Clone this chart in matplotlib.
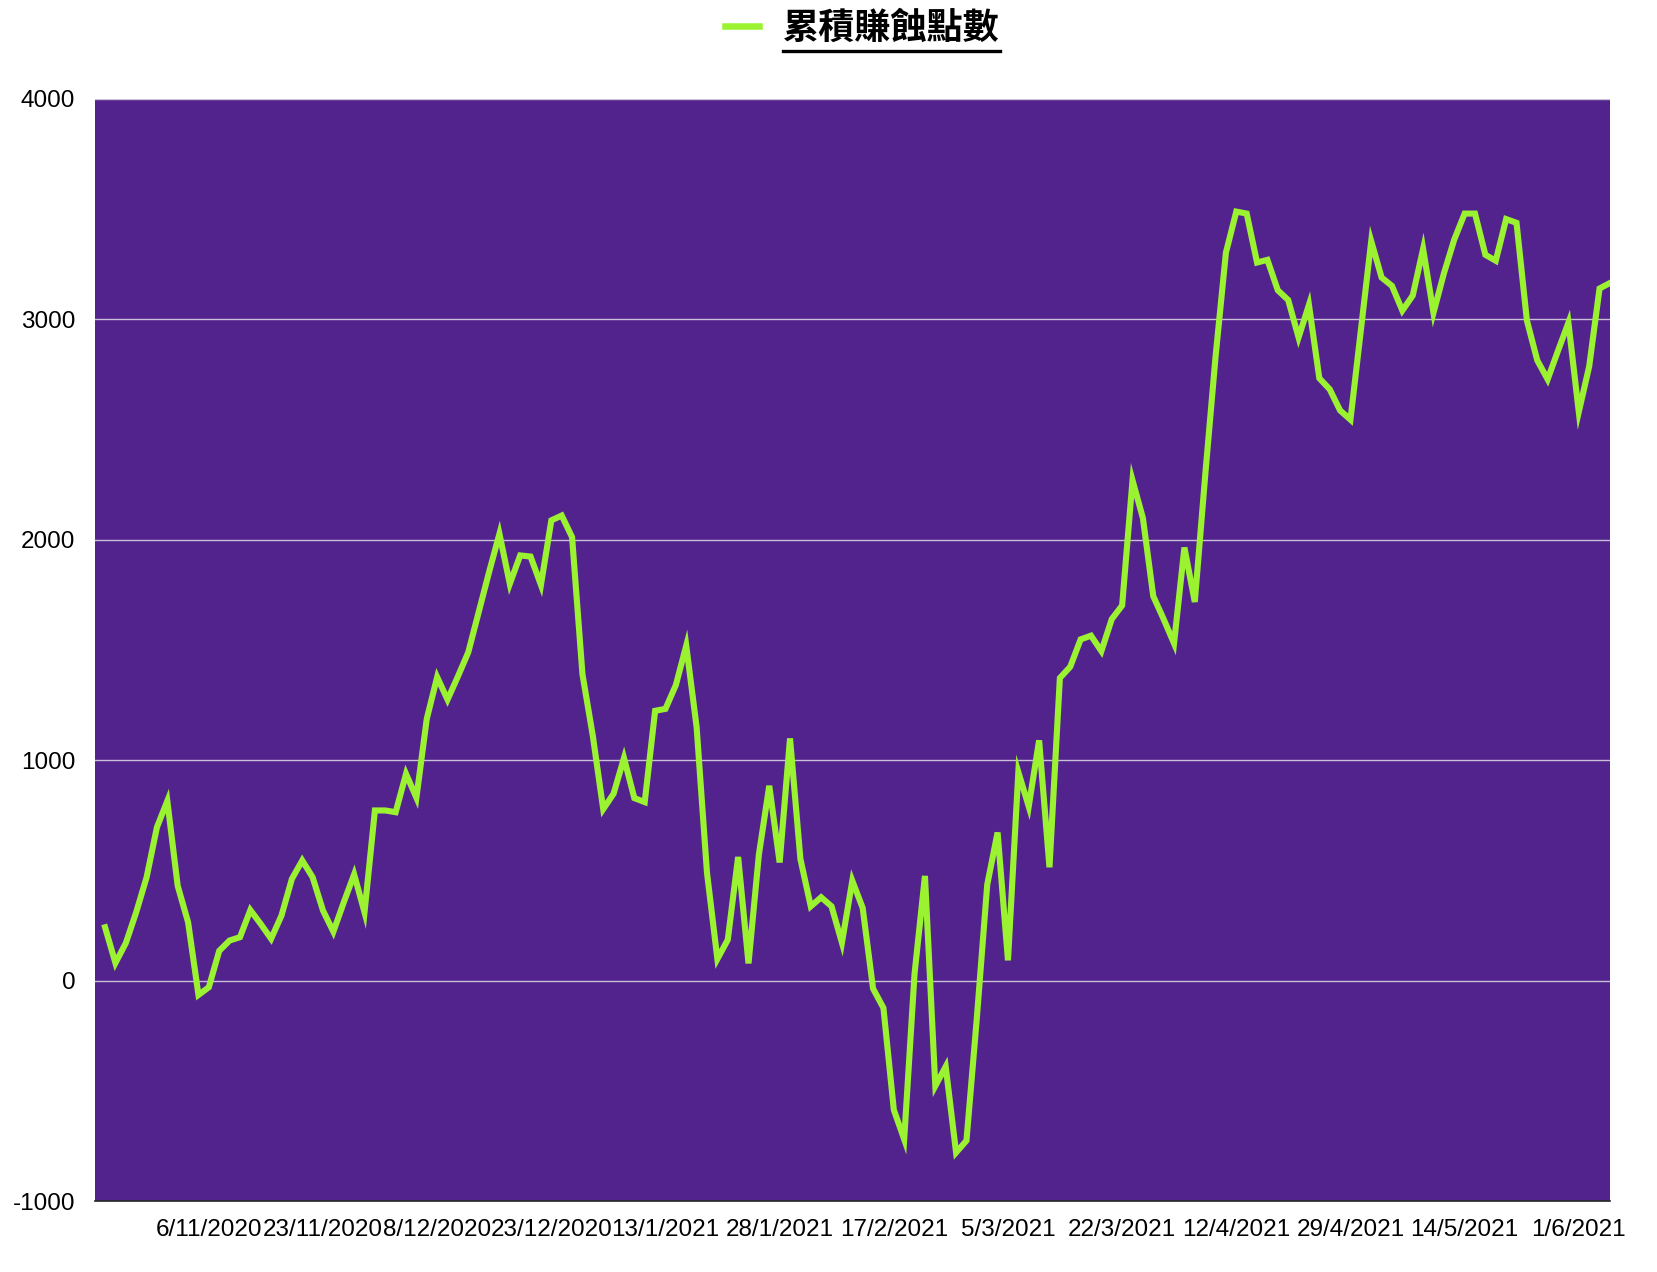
import matplotlib.pyplot as plt
from matplotlib.lines import Line2D

# cumulative profit/loss points, one value per trading day
points = [
    242, 80, 170, 310, 468, 696, 815, 430, 265, -65,
    -30, 135, 182, 197, 320, 257, 190, 295, 461, 545,
    469, 318, 222, 355, 482, 310, 772, 772, 764, 938,
    830, 1188, 1377, 1275, 1380, 1490, 1672, 1853, 2027, 1800,
    1929, 1924, 1795, 2088, 2110, 2012, 1390, 1110, 778, 848,
    1010, 828, 810, 1224, 1233, 1341, 1520, 1150, 489, 98,
    185, 561, 78, 572, 884, 536, 1099, 552, 337, 378,
    337, 172, 453, 330, -36, -124, -586, -720, 32, 475,
    -478, -390, -780, -726, -170, 435, 672, 92, 946, 790,
    1090, 514, 1373, 1424, 1548, 1565, 1495, 1640, 1702, 2270,
    2099, 1744, 1640, 1530, 1965, 1718, 2290, 2830, 3303, 3489,
    3480, 3258, 3270, 3132, 3088, 2918, 3066, 2733, 2683, 2587,
    2545, 2950, 3355, 3190, 3152, 3040, 3108, 3320, 3030, 3208,
    3362, 3480, 3480, 3293, 3266, 3455, 3438, 2995, 2814, 2728,
    2858, 2985, 2580, 2786, 3140, 3165,
]
tick_labels = ['6/11/2020', '23/11/2020', '8/12/2020', '23/12/2020', '13/1/2021',
               '28/1/2021', '17/2/2021', '5/3/2021', '22/3/2021', '12/4/2021',
               '29/4/2021', '14/5/2021', '1/6/2021']
series_name = '累積賺蝕點數'

plt.rcParams['font.family'] = ['Liberation Sans', 'Noto Sans CJK TC', 'DejaVu Sans']
plt.rcParams['axes.unicode_minus'] = False

fig = plt.figure(figsize=(16.58, 12.72), dpi=100)
ax = fig.add_axes([0.0571, 0.0558, 0.9139, 0.8664])
ax.set_facecolor('#52238d')

x = list(range(1, len(points) + 1))
ax.plot(x, points, color='#9af231', linewidth=4.4, solid_joinstyle='miter',
        label=series_name, zorder=3)

ax.set_xlim(0, len(points))
ax.set_ylim(-1000, 4000)
ax.set_yticks([-1000, 0, 1000, 2000, 3000, 4000])
ax.set_xticks(list(range(11, len(points), 11)))
ax.set_xticklabels(tick_labels)
ax.tick_params(axis='both', length=0, labelsize=17.5, colors='black')
ax.tick_params(axis='y', pad=14)
ax.tick_params(axis='x', pad=13)

ax.grid(axis='y', color='#c9bfd9', linewidth=1.0, zorder=1)
for s in ['left', 'right', 'top']:
    ax.spines[s].set_visible(False)
ax.spines['bottom'].set_color('#222222')
ax.spines['bottom'].set_linewidth(1.2)

leg = fig.legend(loc='center', bbox_to_anchor=(0.52, 0.9776), frameon=False,
                 handlelength=0.95, handletextpad=0.67,
                 prop={'family': ['Noto Sans CJK TC'], 'weight': 'bold', 'size': 26})
for h in leg.get_lines():
    h.set_linewidth(4.7)

# underline the legend text
fig.canvas.draw()
bb = leg.get_texts()[0].get_window_extent().transformed(fig.transFigure.inverted())
uy = bb.y0 - 4 / 1272
fig.add_artist(Line2D([bb.x0, bb.x1], [uy, uy], transform=fig.transFigure,
                      color='black', linewidth=2.4))

plt.savefig('out.png', dpi=100)
